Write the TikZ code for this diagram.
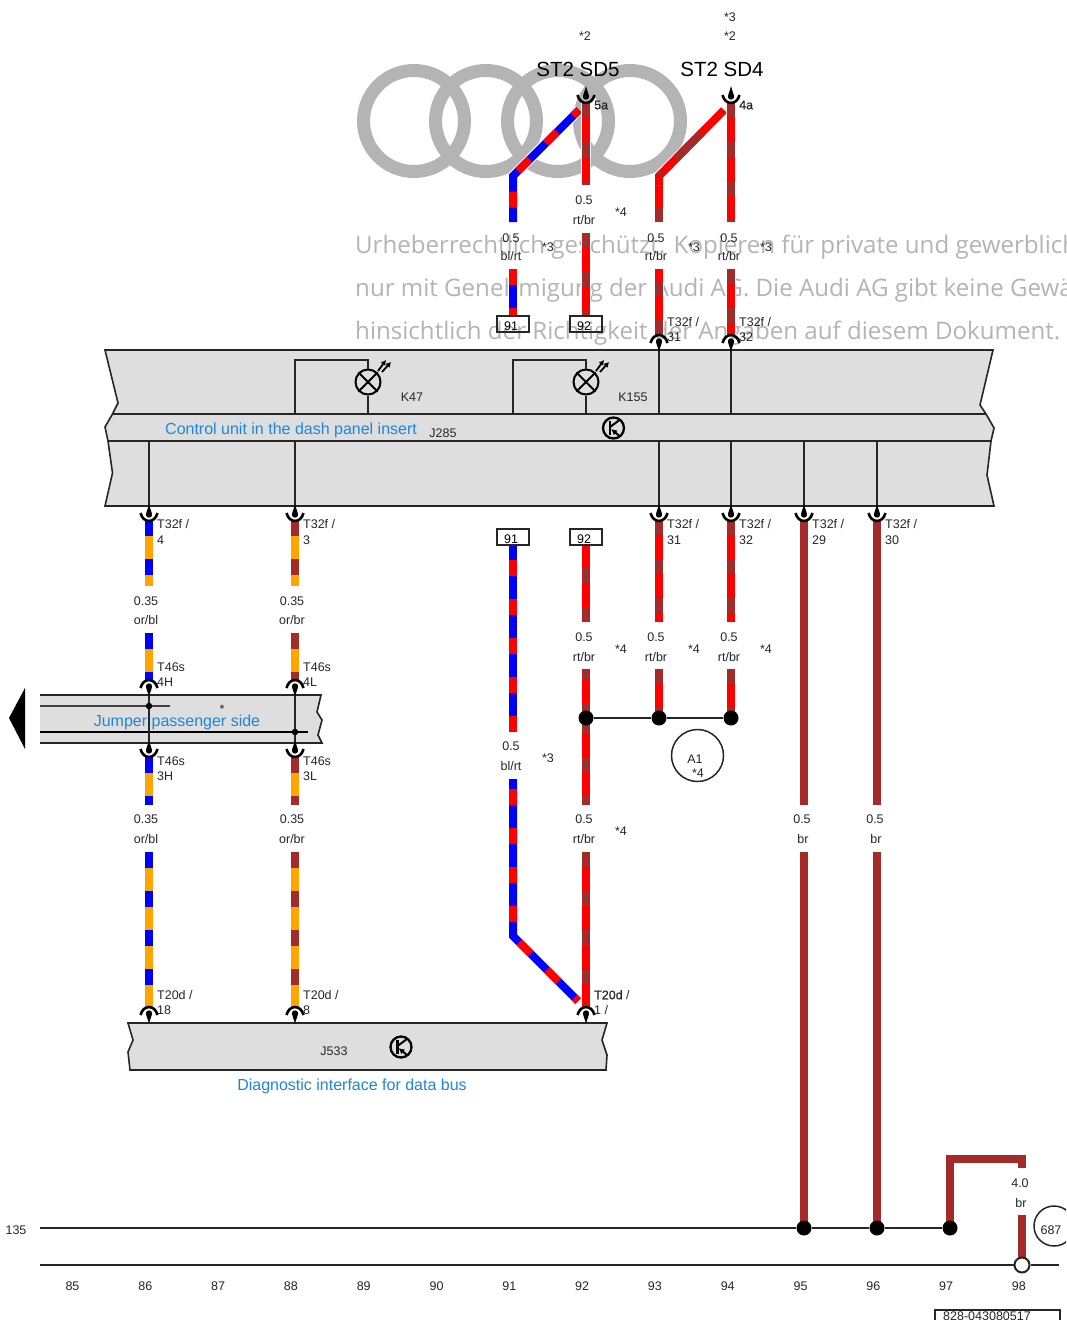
\documentclass[tikz,border=0pt]{standalone}
\usepackage{fontspec}
\setmainfont{Liberation Sans}
\newfontfamily\wmfont{Open Sans}
\newfontfamily\heavyfont[FakeBold=0.5]{Liberation Sans}
\usepackage{xcolor}
\usetikzlibrary{arrows.meta}
\definecolor{wirered}{HTML}{FF0000}
\definecolor{wirebrown}{HTML}{A52A2A}
\definecolor{wireblue}{HTML}{0000FF}
\definecolor{wireorange}{HTML}{FFA500}
\definecolor{unitgray}{HTML}{DEDEDE}
\definecolor{markgray}{HTML}{B4B4B4}
\definecolor{namesblue}{HTML}{1E87DC}
\definecolor{linkdark}{HTML}{262626}
\tikzset{
  wirebase/.style={line width=8pt, preaction={draw=white, line width=10pt}},
  wirebr/.style={wirebase, draw=wirebrown},
  wirertbr/.style={wirebase, draw=wirered, postaction={draw=wirebrown, line width=8pt, dash pattern=on 15pt off 24pt, dash phase=#1}},
  wirertbr/.default=0pt,
  wirertbrdiag/.style={wirebase, draw=wirered, postaction={draw=wirebrown, line width=8pt, dash pattern=on 35pt off 20pt on 4pt off 33pt, dash phase=59pt}},
  wireblrt/.style={wirebase, draw=wireblue, postaction={draw=wirered, line width=8pt, dash pattern=on 16pt off 23pt, dash phase=#1}},
  wireblrt/.default=0pt,
  wireorbl/.style={wirebase, draw=wireorange, postaction={draw=wireblue, line width=8pt, dash pattern=on 16pt off 23pt}},
  wireorbr/.style={wirebase, draw=wireorange, postaction={draw=wirebrown, line width=8pt, dash pattern=on 16pt off 23pt}},
  cable/.style={draw=linkdark, line width=2pt},
  unitbox/.style={fill=unitgray, draw=linkdark, line width=1.6pt},
  lbl/.style={font=\fontsize{12.5}{12.5}\selectfont, text=linkdark, inner sep=0pt, text height=9pt, text depth=2.5pt, yshift=-1pt},
  namelbl/.style={font=\fontsize{16}{16}\selectfont, text=namesblue, inner sep=0pt, yshift=-1.5pt},
  titlelbl/.style={font=\fontsize{20.5}{20.5}\selectfont, text=black, inner sep=0pt, yshift=-1pt},
  wmark/.style={font=\fontsize{24.1}{24.1}\selectfont\wmfont, text=markgray, inner sep=0pt, anchor=base west},
  pointdot/.style={circle, fill=black, inner sep=0pt, minimum size=15pt},
  smalldot/.style={circle, fill=black, inner sep=0pt, minimum size=6.5pt},
  wirebox/.style={draw=linkdark, line width=1.6pt, minimum width=32pt, minimum height=16pt, inner sep=0pt, font=\fontsize{12.5}{12.5}\selectfont, text height=13pt, text depth=0pt},
  lampsym/.style={circle, draw=black, line width=2pt, minimum size=25pt, inner sep=0pt},
  refring/.style={circle, draw=linkdark, line width=1.5pt, inner sep=0pt},
  pinup/.pic={
    \draw[black, line width=2.6pt] (-8.5,-8) .. controls (-6,2.6) and (6,2.6) .. (8.5,-8);
    \fill[black] (0,-17) .. controls (1,-12) and (3,-9) .. (3,-6) .. controls (3,-2.5) and (-3,-2.5) .. (-3,-6) .. controls (-3,-9) and (-1,-12) .. (0,-17) -- cycle;
  },
  pindown/.pic={
    \draw[black, line width=2.6pt] (-8.5,8) .. controls (-6,-2.6) and (6,-2.6) .. (8.5,8);
    \fill[black] (0,17) .. controls (1,12) and (3,9) .. (3,6) .. controls (3,2.5) and (-3,2.5) .. (-3,6) .. controls (-3,9) and (-1,12) .. (0,17) -- cycle;
  },
  transsym/.pic={
    \draw[black, line width=2.3pt] (0,0) circle (10.5);
    \draw[black, line width=2.6pt] (-3.5,-7) -- (-3.5,7);
    \draw[black, line width=2pt] (-3.5,-1) -- (6,-8);
    \draw[black, line width=2pt, -{Latex[length=6pt,width=6pt]}] (6,8) -- (-2.5,1);
  },
  lamprays/.pic={
    \draw[black, line width=1.8pt, -{Latex[length=5pt,width=6pt]}] (10,-11) -- (18,-22);
    \draw[black, line width=1.8pt, -{Latex[length=5pt,width=6pt]}] (14,-10) -- (23,-20);
  }
}

\begin{document}
\begin{tikzpicture}[x=1pt,y=-1pt]
  \useasboundingbox (0,0) rectangle (1066,1320);
  \clip (0,0) rectangle (1066,1320);
  \fill[white] (0,0) rectangle (1066,1320);

  % Rings and watermark lie under everything
  \foreach \x in {414,486,558,630}
    \draw[markgray, line width=13pt] (\x,121) circle (50.5);
  \node[wmark] (markA) at (355,253) {Urheberrechtlich geschützt. Kopieren für private und gewerblich};
  \node[wmark] (markB) at (355,296) {nur mit Genehmigung der Audi AG. Die Audi AG gibt keine Gewä};
  \node[wmark] (markC) at (355,339) {hinsichtlich der Richtigkeit der Angaben auf diesem Dokument.};

  % Wire columns and the levels used on them
  \foreach \col/\x in {a/149,b/295,c/513,d/586,e/659,f/731,g/804,h/877}
    \foreach \lev in {103,176,185,222,233,269,335,350,414,441,506,520,586,622,633,669,680,685,706,718,732,747,757,779,805,852,936,1007,1228}
      \coordinate (\col\lev) at (\x,\lev);
  \coordinate (tipA) at (579,110);
  \coordinate (tipB) at (578,1001);
  \coordinate (tipC) at (724,110);

  % Control unit J285
  \draw[unitbox] (105,350) -- (993,350) -- (980,405) -- (986,414) -- (994,428) -- (991,441) -- (987,475) -- (994,506)
    -- (105,506) -- (112.5,473) -- (108,441) -- (105,427) -- (112.5,414) -- (118,403) -- cycle;
  \coordinate (bandAl) at (112.5,414);
  \coordinate (bandAr) at (986,414);
  \coordinate (bandBl) at (108,441);
  \coordinate (bandBr) at (991,441);
  \draw[cable, line width=2.6pt] (bandAl) -- (bandAr);
  \draw[cable] (bandBl) -- (bandBr);
  \foreach \col in {e,f} \draw[cable] (\col350) -- (\col414);
  \foreach \col in {a,b,e,f,g,h} \draw[cable] (\col441) -- (\col506);
  \node[namelbl, anchor=west] (nameJ285) at (165,429) {Control unit in the dash panel insert};
  \node[lbl] (tagJ285) at (443,433) {J285};
  \pic at (613.5,428) {transsym};

  % Warning lamps
  \node[lampsym] (lampA) at (368,382) {};
  \node[lampsym] (lampB) at (586,382) {};
  \foreach \lamp/\xa in {lampA/295,lampB/513} {
    \draw[black, line width=2pt] (\lamp.45) -- (\lamp.225) (\lamp.135) -- (\lamp.-45);
    \coordinate (\lamp foot) at (\xa,414);
    \draw[cable] (\lamp.north) -- ++(0,-9) -| (\lamp foot);
    \draw[cable] (\lamp.south) -- (\lamp.south |- \lamp foot);
    \pic at (\lamp.center) {lamprays};
  }
  \node[lbl] (tagK47) at (412,397) {K47};
  \node[lbl] (tagK155) at (633,397) {K155};

  % Jumper band
  \draw[unitbox, draw=linkdark] (40,695) -- (321,695) -- (317,712) -- (322,720) -- (318,735) -- (322,743) -- (40,743);
  \coordinate (jumpAl) at (40,706);
  \coordinate (jumpAr) at (170,706);
  \coordinate (jumpBl) at (40,732);
  \coordinate (jumpBr) at (308,732);
  \draw[draw=black!75, line width=2.4pt] (jumpAl) -- (jumpAr);
  \draw[draw=black, line width=2.2pt] (jumpBl) -- (jumpBr);
  \fill[black] (9,718) -- (25,688) -- (25,749) -- cycle;
  \node[namelbl] (nameJump) at (177,720.5) {Jumper passenger side};
  \foreach \col in {a,b} \draw[cable] (\col685) -- (\col747);
  \node[smalldot] (dotJa) at (a706) {};
  \node[smalldot] (dotJb) at (b732) {};

  % Diagnostic interface J533
  \draw[unitbox] (128,1023) -- (607,1023) -- (602,1040) -- (607,1055) -- (606,1070) -- (130,1070) -- (128,1052) -- (133,1040) -- cycle;
  \node[lbl] (tagJ533) at (334,1051) {J533};
  \pic at (401,1047) {transsym};
  \node[namelbl] (nameJ533) at (352,1085) {Diagnostic interface for data bus};

  % Plug-in boxes
  \node[wirebox] (boxA) at (513,324) {91\kern4pt};
  \node[wirebox] (boxB) at (586,324) {92\kern4pt};
  \node[wirebox] (boxC) at (513,537) {91\kern4pt};
  \node[wirebox] (boxD) at (586,537) {92\kern4pt};

  % Wires
  \draw[wireblrt=8pt] (tipA) -- (c176) -- (c222);
  \draw[wireblrt] (c269) -- (boxA.north);
  \draw[wireblrt] (c732) -- (boxC.south);
  \draw[wireblrt=29pt] (c779) -- (c936) -- (tipB);
  \draw[wirertbr] (d103) -- (d185);
  \draw[wirertbr] (d233) -- (boxB.north);
  \draw[wirertbr] (e222) -- (e176);
  \draw[wirertbrdiag] (tipC) -- (e176) -- (e185);
  \draw[wirertbr] (f103) -- (f222);
  \draw[wirertbr] (e335) -- (e269);
  \draw[wirertbr] (f269) -- (f335);
  \draw[wirertbr] (d622) -- (boxD.south);
  \foreach \col in {e,f} {
    \draw[wirertbr] (\col520) -- (\col622);
    \draw[wirertbr] (\col669) -- (\col718);
  }
  \draw[wirertbr] (d718) -- (d669);
  \draw[wirertbr] (d718) -- (d805);
  \draw[wirertbr] (d852) -- (d1007);
  \foreach \col in {g,h} {
    \draw[wirebr] (\col520) -- (\col805);
    \draw[wirebr] (\col852) -- (\col1228);
  }
  \foreach \col/\sty in {a/wireorbl,b/wireorbr} {
    \draw[\sty] (\col520) -- (\col586);
    \draw[\sty] (\col633) -- (\col680);
    \draw[\sty] (\col757) -- (\col805);
    \draw[\sty] (\col852) -- (\col1007);
  }
  \coordinate (earthTl) at (950,1159);
  \coordinate (earthTr) at (1022,1159);
  \coordinate (earthEnd) at (1022,1168);
  \coordinate (earthLow) at (1022,1215);
  \coordinate (earthDot) at (950,1228);
  \coordinate (earthPin) at (1022,1265);
  \draw[wirebr] (earthDot) -- (earthTl) -- (earthTr) -- (earthEnd);
  \draw[wirebr] (earthLow) -- (earthPin);

  % Pins
  \foreach \x in {586,731} \pic at (\x,103) {pinup};
  \foreach \x in {149,295,659,731,804,877} \pic at (\x,521) {pinup};
  \foreach \x in {149,295} \pic at (\x,757) {pinup};
  \foreach \x in {659,731} \pic at (\x,335) {pindown};
  \foreach \x in {149,295} \pic at (\x,680) {pindown};
  \foreach \x in {149,295,586} \pic at (\x,1007) {pindown};

  % Junctions and bus lines
  \node[pointdot] (dotD) at (d718) {};
  \node[pointdot] (dotE) at (e718) {};
  \node[pointdot] (dotF) at (f718) {};
  \draw[cable] (dotD) -- (dotE) -- (dotF);
  \node[refring, minimum size=52pt] (ringA1) at (697.5,755.5) {};
  \node[lbl] (tagA1) at (695,759) {A1};
  \node[lbl] (tagA1s) at (698,773) {*4};
  \node[pointdot] (dotG) at (g1228) {};
  \node[pointdot] (dotH) at (h1228) {};
  \node[pointdot] (dotJ) at (earthDot) {};
  \node[circle, fill=white, draw=linkdark, line width=2pt, inner sep=0pt, minimum size=15pt] (dotK) at (earthPin) {};
  \coordinate (busAl) at (40,1228);
  \coordinate (busBl) at (40,1265);
  \coordinate (busBr) at (1059,1265);
  \draw[cable] (busAl) -- (dotG) -- (dotH) -- (dotJ);
  \draw[cable] (busBl) -- (dotK) -- (busBr);
  \node[lbl] (tag135) at (16,1230) {135};
  \node[refring, minimum size=40pt] (ring687) at (1054,1226) {};
  \node[lbl] (tag687) at (1051,1230) {687};

  % Headline labels
  \node[titlelbl] (titleA) at (578,68) {ST2 SD5};
  \node[titlelbl] (titleB) at (722,68) {ST2 SD4};
  \node[lbl, anchor=west, font=\fontsize{12.5}{12.5}\selectfont\heavyfont] (pinA) at (594,105) {5a};
  \node[lbl, anchor=west, font=\fontsize{12.5}{12.5}\selectfont\heavyfont] (pinB) at (739,105) {4a};

  % Wire sizes and colours
  \foreach \nm/\x/\ya/\sz/\yb/\cl in {
    a1/146/601/0.35/620/{or/bl}, b1/292/601/0.35/620/{or/br},
    a2/146/819/0.35/839/{or/bl}, b2/292/819/0.35/839/{or/br},
    c1/511/238/0.5/256/{bl/rt}, d1/584/200/0.5/220/{rt/br},
    e1/656/238/0.5/256/{rt/br}, f1/729/238/0.5/256/{rt/br},
    c2/511/746/0.5/766/{bl/rt}, d2/584/637/0.5/657/{rt/br},
    e2/656/637/0.5/657/{rt/br}, f2/729/637/0.5/657/{rt/br},
    d3/584/819/0.5/839/{rt/br}, g1/802/819/0.5/839/\kern2pt br,
    h1/875/819/0.5/839/\kern2pt br, r1/1020/1183/4.0/1203/\kern2pt br}
  {
    \node[lbl] (\nm s) at (\x,\ya) {\sz};
    \node[lbl] (\nm c) at (\x,\yb) {\cl};
  }

  % Footnote marks
  \foreach \x/\y/\txt [count=\i] in {
    585/36/*2, 730/17/*3, 730/36/*2, 621/212/*4, 548/247/*3, 694/247/*3, 766/247/*3,
    621/649/*4, 694/649/*4, 766/649/*4, 548/758/*3, 621/831/*4, 222/709/*}
    \node[lbl] (star\i) at (\x,\y) {\txt};

  % Connector pin labels
  \foreach \x/\y/\txt [count=\i] in {
    667/322/{T32f /}, 667/337/31, 739/322/{T32f /}, 739/337/32,
    157/524/{T32f /}, 157/540/4, 303/524/{T32f /}, 303/540/3,
    667/524/{T32f /}, 667/540/31, 739/524/{T32f /}, 739/540/32,
    812/524/{T32f /}, 812/540/29, 885/524/{T32f /}, 885/540/30,
    157/667/T46s, 157/682/4H, 303/667/T46s, 303/682/4L,
    157/761/T46s, 157/776/3H, 303/761/T46s, 303/776/3L,
    157/995/{T20d /}, 157/1010/18, 303/995/{T20d /}, 303/1010/8, 594/1010/{1 /}}
    \node[lbl, anchor=west] (conn\i) at (\x,\y) {\txt};
  \node[lbl, anchor=west] (connT) at (594,995) {{\heavyfont T20d} /};

  % Column numbers
  \foreach \n [count=\i from 0] in {85,...,98}
    \node[lbl] (col\n) at ({72.5+\i*72.8},1286) {\n};

  % Drawing number
  \node[draw=linkdark, line width=1.5pt, minimum width=125pt, minimum height=24pt, inner sep=0pt, anchor=north west] (plate) at (934,1309) {};
  \node[lbl, anchor=west] (plateNo) at (943,1316) {828-043080517};
\end{tikzpicture}
\end{document}
